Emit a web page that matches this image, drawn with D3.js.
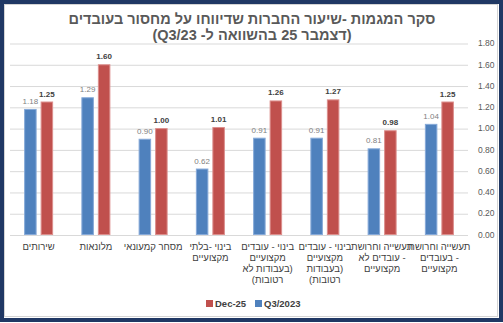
<!DOCTYPE html>
<html><head><meta charset="utf-8">
<script src="https://cdn.jsdelivr.net/npm/d3@7"></script>
<style>
body{margin:0;background:#fff}
svg{display:block}
text{font-family:"Liberation Sans",Arial,"DejaVu Sans",sans-serif}
</style>
</head><body>
<svg id="c" width="503" height="323"></svg>
<script>
// Categories in the chart's own (right-to-left) order
const categories = [
  "תעשייה וחרושת - בעובדים מקצועיים",
  "תעשייה וחרושת - עובדים לא מקצועיים",
  "בינוי - עובדים מקצועיים (בעבודות רטובות)",
  "בינוי - עובדים מקצועיים (בעבודות לא רטובות)",
  "בינוי -בלתי מקצועיים",
  "מסחר קמעונאי",
  "מלונאות",
  "שירותים"
];
const categoryLines = [
  ["תעשייה וחרושת", "- בעובדים", "מקצועיים"],
  ["תעשייה וחרושת", "- עובדים לא", "מקצועיים"],
  ["בינוי - עובדים", "מקצועיים", "(בעבודות", "רטובות)"],
  ["בינוי - עובדים", "מקצועיים", "(בעבודות לא", "רטובות)"],
  ["בינוי -בלתי", "מקצועיים"],
  ["מסחר קמעונאי"],
  ["מלונאות"],
  ["שירותים"]
];
const seriesNames = ["Q3/2023", "Dec-25"];
const q3_2023 = [1.04, 0.81, 0.91, 0.91, 0.62, 0.90, 1.29, 1.18];
const dec25   = [1.25, 0.98, 1.27, 1.26, 1.01, 1.00, 1.60, 1.25];
const yTicks = [0, 0.2, 0.4, 0.6, 0.8, 1.0, 1.2, 1.4, 1.6, 1.8];
const titleLines = [
  "סקר המגמות -שיעור החברות שדיווחו על מחסור בעובדים",
  "(דצמבר 25 בהשוואה ל- Q3/23)"
];
const seriesColors = {"Q3/2023": "#4f81bd", "Dec-25": "#c0504d"};
const seriesEdges = {"Q3/2023": "#86a9d8", "Dec-25": "#dc8e8c"};

const svg = d3.select("#c");

// frame
svg.append("rect").attr("x",2).attr("y",2).attr("width",499).attr("height",318)
  .attr("fill","#fff").attr("stroke","#203864").attr("stroke-width",4);
svg.append("rect").attr("x",4.5).attr("y",4.5).attr("width",493).attr("height",312)
  .attr("fill","none").attr("stroke","#d4d4d4").attr("stroke-width",1);

const plotL = 10, plotR = 468, plotT = 43, plotB = 234.5;

const y = d3.scaleLinear().domain([0, 1.8]).range([plotB, plotT]);
const x0 = d3.scaleBand().domain(categories).range([plotR, plotL])
  .paddingInner(0.4934).paddingOuter(0.2467);
const x1 = d3.scaleBand().domain(seriesNames).range([0, x0.bandwidth()]).paddingInner(0.2424);

// gridlines
const grid = svg.append("g").attr("transform", `translate(${plotL},0)`)
  .call(d3.axisRight(y).tickValues(yTicks).tickSize(plotR - plotL).tickFormat(""));
grid.select(".domain").remove();
grid.selectAll(".tick line").attr("stroke","#d9d9d9").attr("stroke-width",1)
  .attr("transform","translate(0,0.5)");

// y axis labels on right
const ya = svg.append("g").attr("transform", `translate(${plotR},0)`)
  .call(d3.axisRight(y).tickValues(yTicks).tickSize(0).tickPadding(10).tickFormat(d3.format(".2f")));
ya.select(".domain").remove();
ya.selectAll("text").attr("fill","#595959").style("font-size","8.5px")
  .style("font-family",'"Liberation Sans",Arial,sans-serif');

// title
const title = svg.append("text").attr("x",252).attr("y",24).attr("text-anchor","middle")
  .attr("direction","rtl").style("unicode-bidi","embed")
  .attr("fill","#595959").style("font-size","14.5px").style("font-weight","bold");
titleLines.forEach((t,i)=>{
  title.append("tspan").attr("x",252).attr("y",24 + i*16).text(t);
});

// bars
const rows = categories.map((c,i)=>({cat:c, vals:[{s:"Q3/2023", v:q3_2023[i]},{s:"Dec-25", v:dec25[i]}]}));
const groups = svg.append("g").selectAll("g").data(rows).join("g")
  .attr("transform", d=>`translate(${x0(d.cat)},0)`);
groups.selectAll("rect").data(d=>d.vals).join("rect")
  .attr("x", d=>x1(d.s)+0.5)
  .attr("width", x1.bandwidth()-1)
  .attr("y", d=>y(d.v)+0.5)
  .attr("height", d=>plotB - y(d.v) - 0.5)
  .attr("fill", d=>seriesColors[d.s])
  .attr("stroke", d=>seriesEdges[d.s]).attr("stroke-width",1);
groups.selectAll("text.lbl").data(d=>d.vals).join("text").attr("class","lbl")
  .attr("x", d=>x1(d.s)+x1.bandwidth()/2)
  .attr("y", d=>y(d.v)-5)
  .attr("text-anchor","middle")
  .style("font-size","8px")
  .style("font-weight", d=>d.s==="Dec-25"?"bold":"normal")
  .attr("fill", d=>d.s==="Dec-25"?"#404040":"#7f7f7f")
  .text(d=>d3.format(".2f")(d.v));

// category labels
const cl = svg.append("g").selectAll("text").data(categories).join("text")
  .attr("text-anchor","middle").attr("direction","rtl").style("unicode-bidi","embed")
  .attr("fill","#404040").style("font-size","9.5px");
cl.each(function(c,i){
  const cx = x0(c) + x0.bandwidth()/2;
  d3.select(this).selectAll("tspan").data(categoryLines[i]).join("tspan")
    .attr("x", cx).attr("y",(d,j)=>250 + j*11).text(d=>d);
});

// legend
const legendItems = ["Dec-25","Q3/2023"];
const legendX = [206, 255];
const lg = svg.append("g").selectAll("g").data(legendItems).join("g")
  .attr("transform",(d,i)=>`translate(${legendX[i]},300)`);
lg.append("rect").attr("width",7).attr("height",7).attr("fill",d=>seriesColors[d]);
lg.append("text").attr("x",9).attr("y",7).attr("fill","#404040")
  .style("font-size","9.5px").style("font-weight","bold").text(d=>d);
</script>
</body></html>
